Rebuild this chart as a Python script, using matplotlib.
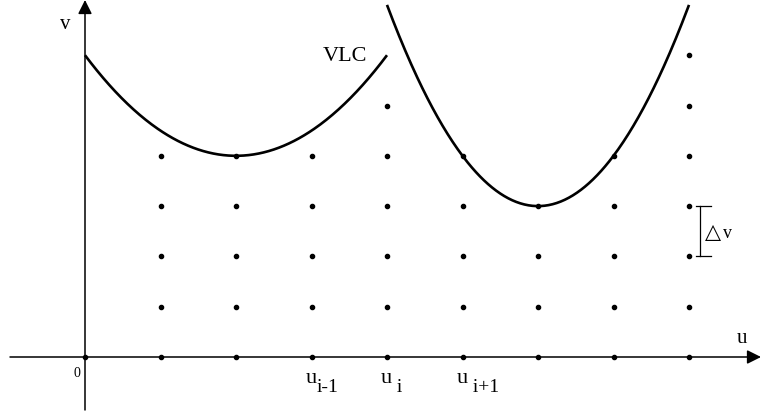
import numpy as np
import matplotlib
matplotlib.use("Agg")
import matplotlib.pyplot as plt

# ---- data ----
dot_cols = [0, 1, 2, 3, 4, 5, 6, 7, 8]          # grid columns (u index)
dot_top = [0, 4, 4, 4, 5, 4, 3, 4, 6]            # highest grid row with a dot in each column

left_u = [0, 2, 4]                               # points on the left curve
left_v = [6, 4, 6]
right_u = [4, 5, 6, 7, 8]                        # points on the right curve
right_v = [7, 4, 3, 4, 7]

tick_pos = [3, 4, 5]
tick_main = ["u", "u", "u"]
tick_sub = ["i-1", " i", " i+1"]

dv_low, dv_high = 2, 3                           # delta-v bracket rows

# ---- figure geometry: pixel -> data mapping ----
W, H = 761, 412
X0, Y0 = 85.0, 357.0      # origin in pixels
SX, SY = 75.5, 50.3       # pixels per unit


def U(px):
    return (px - X0) / SX


def V(py):
    return (Y0 - py) / SY


fig = plt.figure(figsize=(W / 100, H / 100), dpi=100)
ax = fig.add_axes([0, 0, 1, 1])
ax.set_xlim(U(0), U(W))
ax.set_ylim(V(H), V(0))
ax.axis("off")

serif = ["Liberation Serif", "DejaVu Serif"]

# axes with arrows
arrow = dict(arrowstyle="-|>,head_length=0.6,head_width=0.3", color="black",
             lw=1.1, shrinkA=0, shrinkB=0, mutation_scale=14)
ax.annotate("", xy=(U(761), 0), xytext=(U(10), 0), arrowprops=arrow)
ax.annotate("", xy=(0, V(0)), xytext=(0, V(410)), arrowprops=arrow)

# grid dots
xs, ys = [], []
for c, t in zip(dot_cols, dot_top):
    for r in range(0, t + 1):
        xs.append(c)
        ys.append(r)
ax.plot(xs, ys, "o", color="black", ms=3.0, zorder=5)

# curves (quadratic through the read points)
for uu, vv in ((left_u, left_v), (right_u, right_v)):
    p = np.polyfit(uu, vv, 2)
    t = np.linspace(min(uu), max(uu), 300)
    ax.plot(t, np.polyval(p, t), color="black", lw=1.9, solid_capstyle="butt")

# labels
ax.text(U(65), V(29), "v", family=serif, fontsize=15, ha="center", va="baseline")
ax.text(U(742), V(343), "u", family=serif, fontsize=15, ha="center", va="baseline")
ax.text(U(76.5), V(377), "0", family=serif, fontsize=10, ha="center", va="baseline")
ax.text(U(345), V(61), "VLC", family=serif, fontsize=16, ha="center", va="baseline")

for pos, m, s in zip(tick_pos, tick_main, tick_sub):
    x = pos - (6 / SX)
    ax.text(x, V(383), m, family=serif, fontsize=16, ha="left", va="baseline")
    ax.text(x + 11 / SX, V(392.5), s, family=serif, fontsize=14, ha="left", va="baseline")

# delta v bracket
xb = U(700)
ax.plot([xb, xb], [dv_low, dv_high], color="black", lw=0.9)
ax.plot([U(696), U(711)], [dv_low, dv_low], color="black", lw=0.9)
ax.plot([U(696), U(711)], [dv_high, dv_high], color="black", lw=0.9)
ax.text(U(705), V(238), "\u25b3", family=["DejaVu Sans"], fontsize=15, ha="left", va="baseline")
ax.text(U(723), V(238), "v", family=serif, fontsize=13, ha="left", va="baseline")

fig.savefig("out.png", dpi=100)
